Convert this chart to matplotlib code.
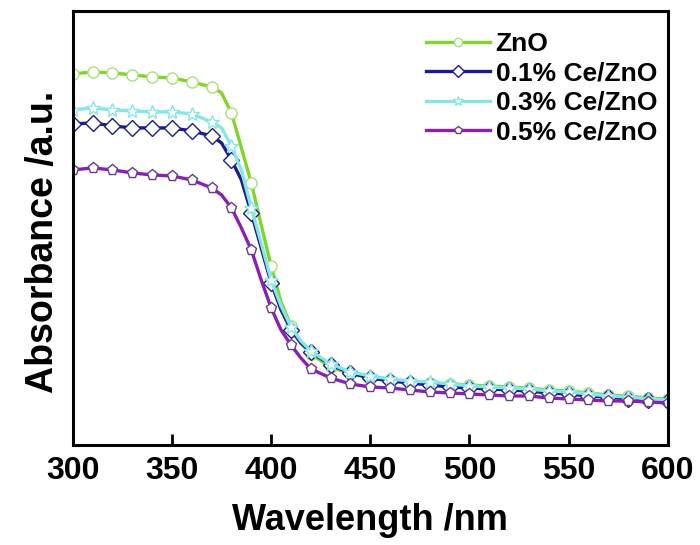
import matplotlib
matplotlib.use("Agg")
import matplotlib.pyplot as plt

plt.rcParams['font.family'] = ['Liberation Sans', 'DejaVu Sans']
plt.rcParams['font.weight'] = 'bold'

# Wavelength grid (nm): 10 nm steps, 5 nm steps across the absorption edge
wavelength = [300, 310, 320, 330, 340, 350, 360, 370, 375, 380, 385, 390, 395,
              400, 405, 410, 415, 420, 430, 440, 450, 460, 470, 480, 490, 500,
              510, 520, 530, 540, 550, 560, 570, 580, 590, 600]

abs_zno = [3.71, 3.73, 3.72, 3.70, 3.68, 3.67, 3.63, 3.58, 3.52, 3.32, 2.97, 2.62,
           2.20, 1.79, 1.43, 1.19, 1.02, 0.91, 0.78, 0.71, 0.67, 0.65, 0.63, 0.62,
           0.61, 0.60, 0.59, 0.58, 0.57, 0.55, 0.54, 0.52, 0.50, 0.49, 0.47, 0.46]

abs_ce01 = [3.21, 3.22, 3.19, 3.17, 3.17, 3.17, 3.14, 3.09, 3.02, 2.85, 2.65, 2.32,
            1.97, 1.62, 1.35, 1.15, 1.02, 0.93, 0.80, 0.72, 0.67, 0.64, 0.62, 0.60,
            0.58, 0.57, 0.56, 0.55, 0.54, 0.52, 0.51, 0.49, 0.48, 0.46, 0.45, 0.44]

abs_ce03 = [3.35, 3.37, 3.35, 3.34, 3.33, 3.33, 3.31, 3.23, 3.17, 2.99, 2.75, 2.37,
            2.02, 1.65, 1.39, 1.18, 1.04, 0.94, 0.81, 0.73, 0.69, 0.66, 0.64, 0.63,
            0.61, 0.59, 0.58, 0.57, 0.56, 0.54, 0.53, 0.51, 0.49, 0.48, 0.46, 0.45]

abs_ce05 = [2.75, 2.77, 2.75, 2.72, 2.70, 2.69, 2.65, 2.57, 2.50, 2.37, 2.17, 1.95,
            1.65, 1.37, 1.15, 1.00, 0.87, 0.76, 0.67, 0.61, 0.58, 0.57, 0.55, 0.53,
            0.52, 0.51, 0.50, 0.49, 0.49, 0.47, 0.46, 0.45, 0.44, 0.44, 0.43, 0.42]

labels = ['ZnO', '0.1% Ce/ZnO', '0.3% Ce/ZnO', '0.5% Ce/ZnO']
xticks = [300, 350, 400, 450, 500, 550, 600]

series = [
    (abs_zno, '#7fd62a', '#a8e07a', 'o'),
    (abs_ce01, '#1c1c8f', '#1c1c8f', 'D'),
    (abs_ce03, '#86e6e6', '#86e6e6', '*'),
    (abs_ce05, '#8b1fb4', '#6a3a8a', 'p'),
]

# markers only on the 10 nm points
mark_idx = [i for i, w in enumerate(wavelength) if w % 10 == 0]

fig = plt.figure(figsize=(7.0, 5.45), dpi=100)
ax = fig.add_axes([0.104, 0.1835, 0.850, 0.7965])

for (vals, col, edge, mk), lab in zip(series, labels):
    ms = 10.5 if mk == '*' else 8
    ax.plot(wavelength, vals, color=col, lw=2.4, marker=mk, markersize=ms,
            markerfacecolor='white', markeredgecolor=edge, markeredgewidth=1.0,
            markevery=mark_idx, label=lab)

ax.set_xlim(300, 600)
ax.set_ylim(0, 4.34)
ax.set_xticks(xticks)
ax.set_yticks([])
ax.tick_params(axis='x', direction='in', length=8, width=2, labelsize=23, pad=8)
for lbl in ax.get_xticklabels():
    lbl.set_fontweight('bold')
for sp in ax.spines.values():
    sp.set_linewidth(2.2)

ax.set_xlabel('Wavelength /nm', fontsize=26, fontweight='bold', labelpad=12)
ax.set_ylabel('Absorbance /a.u.', fontsize=27, fontweight='bold')
ax.yaxis.set_label_coords(-0.020, 0.468)

leg = ax.legend(loc='upper right', bbox_to_anchor=(1.0, 0.975), frameon=False,
                fontsize=19, handlelength=2.45, handletextpad=0.2,
                labelspacing=0.2, borderaxespad=0.0, markerscale=0.75)
for t in leg.get_texts():
    t.set_fontweight('bold')

fig.savefig('out.png', dpi=100)
